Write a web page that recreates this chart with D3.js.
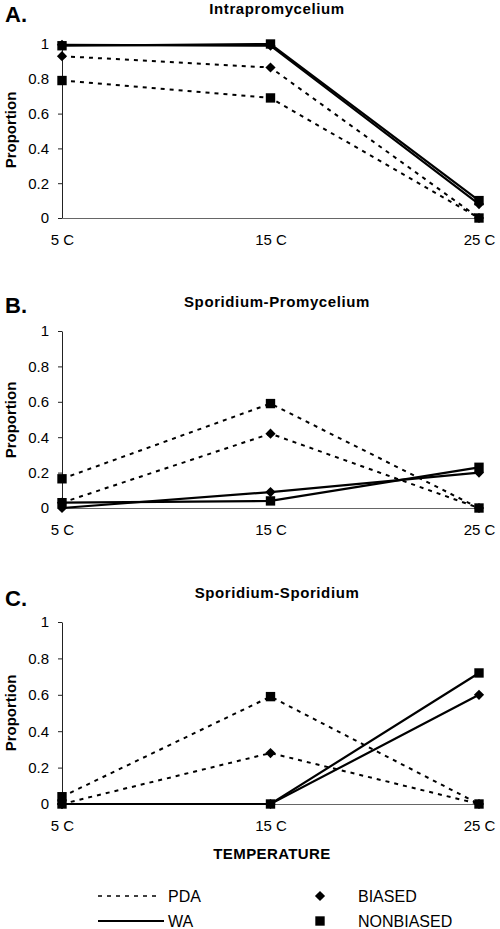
<!DOCTYPE html>
<html>
<head>
<meta charset="utf-8">
<script src="https://cdn.jsdelivr.net/npm/d3@7"></script>
<style>
  html, body { margin: 0; padding: 0; background: #fff; }
  svg { display: block; }
  text { font-family: "Liberation Sans", Arial, Helvetica, sans-serif; fill: #000; }
</style>
</head>
<body>
<svg id="chart" width="500" height="929"></svg>
<script>
// ---- data ----
const temps = ["5 C", "15 C", "25 C"];
const yTicks = [0, 0.2, 0.4, 0.6, 0.8, 1];
const panelLetters = ["A.", "B.", "C."];
const panelTitles = ["Intrapromycelium", "Sporidium-Promycelium", "Sporidium-Sporidium"];

// A. Intrapromycelium
const pdaBiasedA = [0.93, 0.865, 0];
const pdaNonbiasedA = [0.79, 0.69, 0];
const waBiasedA = [0.995, 0.99, 0.08];
const waNonbiasedA = [0.99, 1.0, 0.1];

// B. Sporidium-Promycelium
const pdaBiasedB = [0.03, 0.42, 0];
const pdaNonbiasedB = [0.165, 0.59, 0];
const waBiasedB = [0.0, 0.09, 0.2];
const waNonbiasedB = [0.03, 0.04, 0.23];

// C. Sporidium-Sporidium
const pdaBiasedC = [0, 0.28, 0];
const pdaNonbiasedC = [0.04, 0.59, 0];
const waBiasedC = [0, 0, 0.6];
const waNonbiasedC = [0, 0, 0.72];

const legendMedia = ["PDA", "WA"];
const legendTypes = ["BIASED", "NONBIASED"];
const xTitle = "TEMPERATURE";
const yTitle = "Proportion";

// ---- layout ----
const svg = d3.select("#chart");
const x = d3.scalePoint().domain(temps).range([62, 479]);

const panels = [
  { y0: 218, y1: 44, titleY: 14, letterY: 22, ylabY: 130,
    series: [
      { v: pdaBiasedA, media: "PDA", type: "BIASED" },
      { v: pdaNonbiasedA, media: "PDA", type: "NONBIASED" },
      { v: waBiasedA, media: "WA", type: "BIASED" },
      { v: waNonbiasedA, media: "WA", type: "NONBIASED" } ] },
  { y0: 508, y1: 331, titleY: 307, letterY: 313, ylabY: 420,
    series: [
      { v: pdaBiasedB, media: "PDA", type: "BIASED" },
      { v: pdaNonbiasedB, media: "PDA", type: "NONBIASED" },
      { v: waBiasedB, media: "WA", type: "BIASED" },
      { v: waNonbiasedB, media: "WA", type: "NONBIASED" } ] },
  { y0: 804, y1: 622, titleY: 598, letterY: 606, ylabY: 713,
    series: [
      { v: pdaBiasedC, media: "PDA", type: "BIASED" },
      { v: pdaNonbiasedC, media: "PDA", type: "NONBIASED" },
      { v: waBiasedC, media: "WA", type: "BIASED" },
      { v: waNonbiasedC, media: "WA", type: "NONBIASED" } ] }
];

const dash = "4,5";
// diamond = square rotated 45 degrees (equal width and height)
const diamondPath = d3.symbol().type(d3.symbolSquare).size(52)();
const squarePath = d3.symbol().type(d3.symbolSquare).size(88)();
const markerTransform = (type, cx, cy) =>
  type === "BIASED" ? `translate(${cx},${cy}) rotate(45)` : `translate(${cx},${cy})`;
const fmt = d => (d === 0 || d === 1) ? String(d) : d.toFixed(1);

panels.forEach((p, i) => {
  const y = d3.scaleLinear().domain([0, 1]).range([p.y0, p.y1]);
  const g = svg.append("g");

  // letter and title
  g.append("text").attr("x", 5).attr("y", p.letterY)
    .attr("font-size", 22).attr("font-weight", "bold").text(panelLetters[i]);
  g.append("text").attr("x", 277).attr("y", p.titleY).attr("text-anchor", "middle")
    .attr("font-size", 15).attr("font-weight", "bold").attr("letter-spacing", 0.6)
    .text(panelTitles[i]);

  // y label
  g.append("text")
    .attr("transform", `translate(16,${p.ylabY}) rotate(-90)`)
    .attr("text-anchor", "middle").attr("font-size", 15).attr("font-weight", "bold")
    .text(yTitle);

  // x axis
  const xa = g.append("g").attr("transform", `translate(0,${p.y0})`)
    .call(d3.axisBottom(x).tickSize(0).tickPadding(16));
  xa.select(".domain").attr("stroke", "#666").attr("stroke-width", 1);
  xa.selectAll("text").attr("font-size", 15).attr("fill", "#000")
    .attr("font-family", "Liberation Sans, Arial, sans-serif");

  // y axis
  const ya = g.append("g").attr("transform", `translate(${x(temps[0])},0)`)
    .call(d3.axisLeft(y).tickValues(yTicks).tickFormat(fmt).tickSize(4).tickSizeOuter(0).tickPadding(9));
  ya.select(".domain").attr("stroke", "#222").attr("stroke-width", 1);
  ya.selectAll(".tick line").attr("stroke", "#222");
  ya.selectAll("text").attr("font-size", 15).attr("fill", "#000")
    .attr("font-family", "Liberation Sans, Arial, sans-serif");

  const line = d3.line().x((d, j) => x(temps[j])).y(d => y(d));

  // lines: dashed PDA first, then solid WA
  p.series.forEach(s => {
    g.append("path").attr("d", line(s.v))
      .attr("fill", "none").attr("stroke", "#000")
      .attr("stroke-width", s.media === "PDA" ? 2 : 2.2)
      .attr("stroke-dasharray", s.media === "PDA" ? dash : null);
  });
  // markers
  p.series.forEach(s => {
    g.selectAll(null).data(s.v).enter().append("path")
      .attr("d", s.type === "BIASED" ? diamondPath : squarePath)
      .attr("transform", (d, j) => markerTransform(s.type, x(temps[j]), y(d)))
      .attr("fill", "#000");
  });
});

// x title
svg.append("text").attr("x", 272).attr("y", 859).attr("text-anchor", "middle")
  .attr("font-size", 15).attr("font-weight", "bold").attr("letter-spacing", 0.4).text(xTitle);

// legend
const legY = [896, 921];
legendMedia.forEach((m, i) => {
  svg.append("line").attr("x1", 98).attr("x2", m === "PDA" ? 158 : 164)
    .attr("y1", legY[i]).attr("y2", legY[i]).attr("stroke", "#000")
    .attr("stroke-width", m === "PDA" ? 1.5 : 2)
    .attr("stroke-dasharray", m === "PDA" ? "4,5" : null);
  svg.append("text").attr("x", 168).attr("y", legY[i] + 6).attr("font-size", 16).text(m);
});
legendTypes.forEach((t, i) => {
  svg.append("path").attr("d", t === "BIASED" ? diamondPath : squarePath)
    .attr("transform", markerTransform(t, 320, legY[i])).attr("fill", "#000");
  svg.append("text").attr("x", 358).attr("y", legY[i] + 6).attr("font-size", 16).text(t);
});
</script>
</body>
</html>
